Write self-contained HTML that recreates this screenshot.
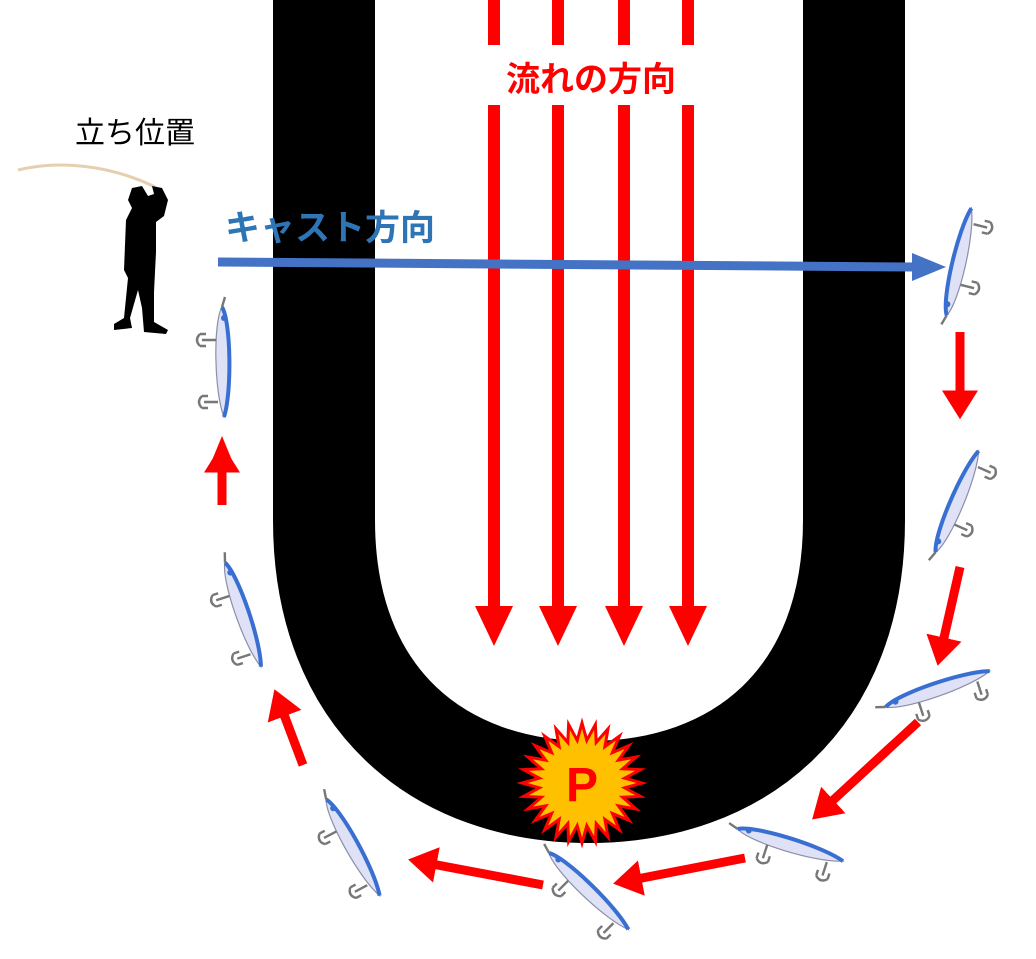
<!DOCTYPE html>
<html><head><meta charset="utf-8"><style>
html,body{margin:0;padding:0;background:#fff;width:1036px;height:959px;overflow:hidden}
svg text{font-family:"Liberation Sans","Noto Sans CJK JP",sans-serif}
</style></head><body>
<svg id="s" width="1036" height="959" viewBox="0 0 1036 959" xmlns="http://www.w3.org/2000/svg">
<defs>
<g id="lure">
  <path d="M-55,0 C-40,-9 30,-10 55,-2 C30,8 -40,9 -55,0 Z" fill="#dfe2f6" stroke="#8a8fa8" stroke-width="1.2"/>
  <path d="M-55,0 C-40,-9 30,-10 55,-2" fill="none" stroke="#3a6fd2" stroke-width="4"/>
  <circle cx="-44" cy="-2" r="3" fill="#3a6fd2"/>
  <path d="M-55,0 l-10,-3 M-22,6 v14 M-28,22 q6,6 12,0 M-28,16 v6 M-16,16 v6 M40,4 v14 M34,20 q6,6 12,0 M34,14 v6 M46,14 v6" fill="none" stroke="#777" stroke-width="2.4"/>
</g>
<marker id="rh" markerWidth="4" markerHeight="4" refX="0.5" refY="2" orient="auto" markerUnits="strokeWidth"><path d="M0,0 L3.2,2 L0,4 Z" fill="#ff0000"/></marker>
</defs>
<path d="M324,0 L324,520 C324,700 440,792 589,792 C738,792 854,700 854,520 L854,0" fill="none" stroke="#000" stroke-width="102"/>
<g stroke="#ff0000" stroke-width="12" fill="#ff0000">
  <line x1="494" y1="0" x2="494" y2="45"/><line x1="558" y1="0" x2="558" y2="45"/><line x1="624" y1="0" x2="624" y2="45"/><line x1="688" y1="0" x2="688" y2="45"/>
  <line x1="494" y1="105" x2="494" y2="610"/><line x1="558" y1="105" x2="558" y2="610"/><line x1="624" y1="105" x2="624" y2="610"/><line x1="688" y1="105" x2="688" y2="610"/>
</g>
<g fill="#ff0000">
  <path d="M475,606 h38 l-19,40 z"/><path d="M539,606 h38 l-19,40 z"/><path d="M605,606 h38 l-19,40 z"/><path d="M669,606 h38 l-19,40 z"/>
</g>
<text x="591" y="91" font-size="34" font-weight="bold" fill="#ff0000" text-anchor="middle">流れの方向</text>
<text x="225" y="240" font-size="35" font-weight="bold" fill="#2e75b6">キャスト方向</text>
<line x1="218" y1="262" x2="915" y2="267" stroke="#4472c4" stroke-width="9"/>
<path d="M912,253 L946,267 L912,281 Z" fill="#4472c4"/>
<text x="75" y="143" font-size="30" fill="#000">立ち位置</text>
<path d="M18,170 C60,160 110,165 155,187" fill="none" stroke="#e6cfae" stroke-width="3"/>
<path d="M152,186 l10,2 l6,12 l-4,16 l-8,6 l0,30 l-2,40 l0,30 l14,8 l-2,4 l-22,-2 l-2,-24 l-4,-18 l-8,28 l2,10 l-18,2 l0,-6 l10,-6 l4,-40 l-4,-8 l2,-50 l6,-12 l-4,-8 l4,-12 l10,-2 l6,10 l6,-2 z" fill="#000"/>
<g stroke="#ff0000" stroke-width="9" fill="none" marker-end="url(#rh)">
  <line x1="960" y1="332" x2="960" y2="395"/>
  <line x1="960" y1="567" x2="943" y2="642"/>
  <line x1="918" y1="722" x2="830" y2="803"/>
  <line x1="745" y1="858" x2="637" y2="879"/>
  <line x1="543" y1="885" x2="432" y2="864"/>
  <line x1="303" y1="765" x2="283" y2="712"/>
  <line x1="222" y1="505" x2="222" y2="468"/>
</g>
<g fill="#ff0000">
  <path d="M208,470 h28 l-14,-34 z"/>
</g>
<use href="#lure" transform="translate(960,262) rotate(-76)"/>
<use href="#lure" transform="translate(958,502) rotate(-66)"/>
<use href="#lure" transform="translate(938,690) rotate(-18)"/>
<use href="#lure" transform="translate(790,846) rotate(18)"/>
<use href="#lure" transform="translate(588,892) rotate(45)"/>
<use href="#lure" transform="translate(352,848) rotate(62)"/>
<use href="#lure" transform="translate(242,615) rotate(72)"/>
<use href="#lure" transform="translate(222,362) rotate(90)"/>
<polygon id="burst" fill="#ffc000" stroke="#ff0000" stroke-width="3"/>
<text x="582" y="801" font-size="48" font-weight="bold" fill="#ff0000" text-anchor="middle">P</text>
</svg>
<script>
var p=[],n=28;for(var i=0;i<2*n;i++){var r=i%2?43:60,a=Math.PI*i/n;p.push((582+r*Math.cos(a)).toFixed(1)+","+(783+r*Math.sin(a)).toFixed(1));}
document.getElementById("burst").setAttribute("points",p.join(" "));
</script>
</body></html>
